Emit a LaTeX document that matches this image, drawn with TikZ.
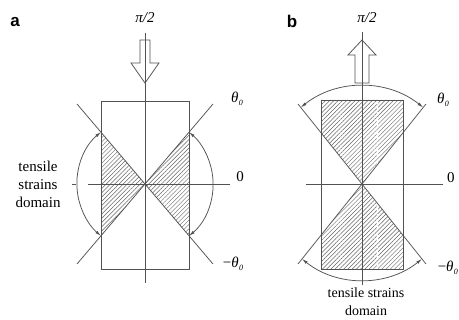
\documentclass[tikz,border=0pt]{standalone}
\usepackage{fontspec}
\setmainfont{Liberation Serif}
\newfontfamily\labfont{Liberation Sans}
\usetikzlibrary{patterns.meta,arrows.meta}
\newcommand{\thz}{{\itshape θ}\kern0.2pt\raisebox{-0.45ex}{\fontsize{8}{8}\selectfont\itshape 0}}
\begin{document}
\begin{tikzpicture}[x=1pt,y=1pt,
  ln/.style={draw=black!68,line width=0.75pt},
  hatch/.style={pattern={Lines[angle=45,distance=3pt,line width=0.45pt]},pattern color=black!60},
  arcarrow/.style={ln,{Latex[length=6pt,width=3pt]}-{Latex[length=6pt,width=3pt]}},
  hollow/.style={draw=black!68,line width=0.75pt,fill=white},
  lbl/.style={font=\fontsize{15}{18}\selectfont,inner sep=0pt},
  panel/.style={font=\labfont\bfseries\fontsize{17}{17}\selectfont,inner sep=0pt},
  dom/.style={font=\fontsize{15}{18}\selectfont,align=center,inner sep=0pt}]
\useasboundingbox (0,0) rectangle (459,320);
\fill[white] (0,0) rectangle (459,320);
% ---------------- panel a ----------------
\coordinate (ca) at (145,136);
\coordinate (aTL) at (101,219);
\coordinate (aBR) at (189,51);
\coordinate (aLU) at (101,188);
\coordinate (aLD) at (101,84);
\coordinate (aRU) at (189,188);
\coordinate (aRD) at (189,84);
\fill[hatch] (aLU) -- (ca) -- (aLD) -- cycle;
\fill[hatch] (aRU) -- (ca) -- (aRD) -- cycle;
\draw[ln] (aTL) rectangle (aBR);
\coordinate (aVt) at (145,287);
\coordinate (aVb) at (145,37);
\coordinate (aHl) at (88,136);
\coordinate (aHr) at (230,136);
\coordinate (aTk1) at (72,136);
\coordinate (aTk2) at (76,136);
\draw[ln] (aHl) -- (aHr);
\draw[ln] (aTk1) -- (aTk2);
\coordinate (aD1) at (77,216);
\coordinate (aD2) at (213,56);
\coordinate (aD3) at (213,216);
\coordinate (aD4) at (77,56);
\draw[ln] (aD1) -- (aD2);
\draw[ln] (aD3) -- (aD4);
\draw[arcarrow] (aLU) arc[start angle=130.2,end angle=229.8,radius=68];
\draw[arcarrow] (aRD) arc[start angle=-49.8,end angle=49.8,radius=68];
\draw[hollow] (140,280) -- (150,280) -- (150,257) -- (159,257) -- (145,237) -- (131,257) -- (140,257) -- cycle;
\draw[ln] (aVt) -- (aVb);
\node[panel] (la) at (15,298) {a};
\node[lbl] (api) at (145,302) {\itshape π/2};
\node[lbl] (ath) at (237,221) {\thz};
\node[lbl] (azero) at (240,143) {0};
\node[lbl] (amth) at (233,56) {−\thz};
\node[dom] (adom) at (38,136) {tensile\\strains\\domain};
% ---------------- panel b ----------------
\coordinate (cb) at (362,136);
\coordinate (bTL) at (321,220);
\coordinate (bTR) at (403,220);
\coordinate (bBL) at (321,51);
\coordinate (bBR) at (403,51);
\coordinate (bRU) at (403,187.25);
\coordinate (bLU) at (321,187.25);
\coordinate (bRD) at (403,84.75);
\coordinate (bLD) at (321,84.75);
\fill[hatch] (bTL) -- (bTR) -- (bRU) -- (cb) -- (bLU) -- cycle;
\fill[hatch] (bBL) -- (bBR) -- (bRD) -- (cb) -- (bLD) -- cycle;
\coordinate (bWt) at (377,220);
\coordinate (bWb) at (377,51);
\draw[white,line width=0.8pt,dash pattern=on 4pt off 2pt] (bWt) -- (bWb);
\draw[ln] (bTL) rectangle (bBR);
\coordinate (bVt) at (362,288);
\coordinate (bVb) at (362,35);
\coordinate (bHl) at (306,136);
\coordinate (bHr) at (443,136);
\draw[ln] (bHl) -- (bHr);
\coordinate (bD1) at (298,216);
\coordinate (bD2) at (426,56);
\coordinate (bD3) at (426,216);
\coordinate (bD4) at (298,56);
\draw[ln] (bD1) -- (bD2);
\draw[ln] (bD3) -- (bD4);
\draw[arcarrow] (cb) ++(51.3:98) arc[start angle=51.3,end angle=128.7,radius=98];
\draw[arcarrow] (cb) ++(231.3:96) arc[start angle=231.3,end angle=308.7,radius=96];
\draw[hollow] (355,237) -- (369,237) -- (369,265) -- (376,265) -- (362,280) -- (348,265) -- (355,265) -- cycle;
\draw[ln] (bVt) -- (bVb);
\node[panel] (lb) at (292,299) {b};
\node[lbl] (bpi) at (367,302) {\itshape π/2};
\node[lbl] (bth) at (443,220) {\thz};
\node[lbl,anchor=base west] (bzero) at (447,137.5) {\textup{0}};
\node[lbl,anchor=east] (bmth) at (458,52) {−\thz};
\node[dom,font=\fontsize{14}{18}\selectfont] (bdom) at (366,18) {tensile strains\\domain};
\end{tikzpicture}
\end{document}
